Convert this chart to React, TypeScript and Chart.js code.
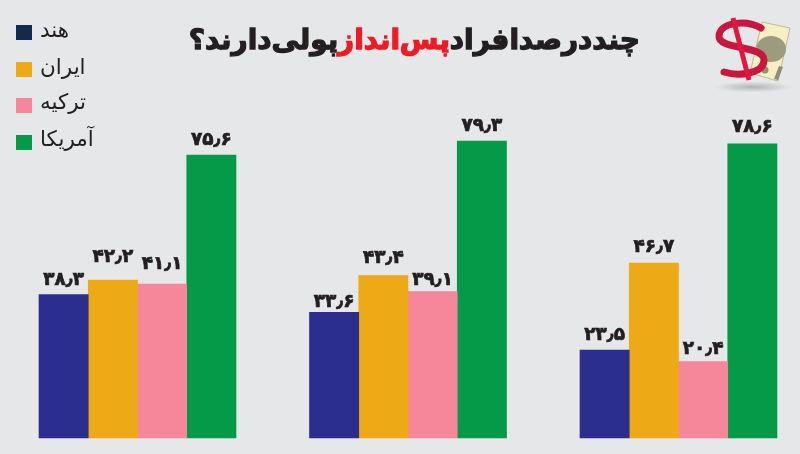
import React, { useEffect, useRef } from "react";
import { Chart, registerables } from "chart.js";

Chart.register(...registerables);

const categories = ["A", "B", "C"];
const hind = [38.3, 33.6, 23.5];
const iran = [42.2, 43.4, 46.7];
const turkey = [41.1, 39.1, 20.4];
const usa = [75.6, 79.3, 78.6];
const seriesNames = ["هند", "ایران", "ترکیه", "آمریکا"];
const barColors = ["#2b2e8f", "#eea917", "#f6869a", "#049a48"];
const legendColors = ["#13294f", "#eea917", "#f6869a", "#049a48"];
const titleBefore = "چند درصد افراد ";
const titleRed = "پس انداز ";
const titleAfter = "پولی دارند؟";

// Hand-set lift of each value label above its bar, series by series.
const labelLifts = [
  [10, 5, 10],
  [18, 13, 11],
  [15, 7, 8],
  [10, 10, 12],
];

const toPersian = (v: number) =>
  v.toFixed(1).replace(/\d/g, (d) => "۰۱۲۳۴۵۶۷۸۹"[+d]).replace(".", "٫");

const FONT = '"DejaVu Sans", sans-serif';

const overlay = {
  id: "overlay",
  afterDatasetsDraw(chart: any) {
    const ctx = chart.ctx;
    ctx.save();
    ctx.textAlign = "center";
    ctx.textBaseline = "alphabetic";
    ctx.fillStyle = "#231f20";
    ctx.strokeStyle = "#231f20";
    ctx.lineWidth = 0.7;
    ctx.font = `bold 18.5px ${FONT}`;
    chart.data.datasets.forEach((ds: any, i: number) => {
      chart.getDatasetMeta(i).data.forEach((bar: any, j: number) => {
        const t = toPersian(ds.data[j]);
        const y = bar.y - labelLifts[i][j];
        ctx.fillText(t, bar.x, y);
        ctx.strokeText(t, bar.x, y);
      });
    });
    ctx.restore();
  },
};

export default function App() {
  const ref = useRef<HTMLCanvasElement>(null);
  useEffect(() => {
    document.body.style.margin = "0";
    const chart = new Chart(ref.current!, {
      type: "bar",
      data: {
        labels: categories,
        datasets: [hind, iran, turkey, usa].map((data, i) => ({
          label: seriesNames[i],
          data,
          backgroundColor: barColors[i],
          barThickness: 49.25,
          clip: false as any,
        })),
      },
      options: {
        animation: false,
        responsive: false,
        layout: { padding: { left: 137.5, right: 121.5, top: 0, bottom: 16 } },
        plugins: { legend: { display: false }, tooltip: { enabled: false } },
        scales: {
          x: { display: false, offset: false },
          y: { display: false, min: 0, max: 117 },
        },
      },
      plugins: [overlay],
    });
    return () => chart.destroy();
  }, []);

  return (
    <div style={{ position: "relative", width: 800, height: 454, background: "#e6e7e9", overflow: "hidden" }}>
      <canvas ref={ref} width={800} height={454} style={{ position: "absolute", left: 0, top: 0 }} />
      <div
        dir="rtl"
        style={{
          position: "absolute",
          left: 150,
          width: 490,
          top: 18,
          fontFamily: FONT,
          fontWeight: 700,
          fontSize: 28,
          lineHeight: "44px",
          whiteSpace: "nowrap",
          color: "#231f20",
          WebkitTextStroke: "1.3px currentColor",
          wordSpacing: -10,
        }}
      >
        {titleBefore}
        <span style={{ color: "#ed1c24" }}>{titleRed}</span>
        {titleAfter}
      </div>
      {seriesNames.map((name, i) => (
        <div key={name}>
          <div
            style={{
              position: "absolute",
              left: 16,
              top: [25, 62, 98, 135][i],
              width: 16,
              height: 15,
              background: legendColors[i],
            }}
          />
          <div
            dir="rtl"
            style={{
              position: "absolute",
              left: 40,
              top: [13, 50, 85, 122][i],
              fontFamily: FONT,
              fontSize: 21.5,
              lineHeight: "34px",
              color: "#231f20",
            }}
          >
            {name}
          </div>
        </div>
      ))}
      <svg style={{ position: "absolute", left: 700, top: 5 }} width={100} height={95} viewBox="700 5 100 95">
        <defs>
          <radialGradient id="sh">
            <stop offset="0%" stopColor="#b4b4b4" />
            <stop offset="100%" stopColor="#e6e7e9" />
          </radialGradient>
        </defs>
        <ellipse cx="753" cy="87" rx="39" ry="5.5" fill="url(#sh)" />
        <polygon points="762,22 790,28 778,81 750,73" fill="#f5f0c4" stroke="#bdb98f" strokeWidth="1" />
        <ellipse cx="771" cy="49" rx="15" ry="13" fill="#9c9b7e" />
        <circle cx="765" cy="70" r="3.5" fill="#8f8e72" />
        <polygon points="779,66 783,67 778,80 774,79" fill="#8f8e72" />
        <path
          d="M761 28 C748 20 720 21 719 36 C718 50 764 45 764 60 C764 73 740 77 724 72"
          fill="none"
          stroke="#c8173f"
          strokeWidth="7"
          strokeLinecap="round"
        />
        <line x1="733" y1="18" x2="749" y2="80" stroke="#e3173e" strokeWidth="5" />
      </svg>
    </div>
  );
}
